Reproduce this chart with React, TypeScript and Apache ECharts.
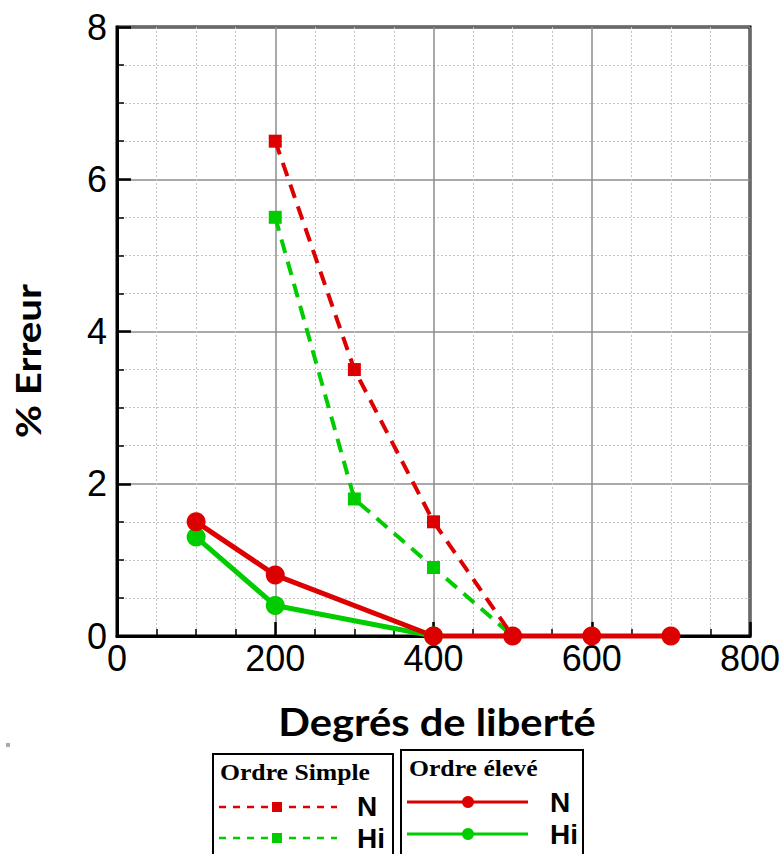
import React, { useEffect, useRef } from "react";
import * as echarts from "echarts";

// ---- data ----
const xSimple = [200, 300, 400, 500];
const simpleN = [6.5, 3.5, 1.5, 0];
const simpleHi = [5.5, 1.8, 0.9, 0];
const xEleveN = [100, 200, 400, 500, 600, 700];
const eleveN = [1.5, 0.8, 0, 0, 0, 0];
const xEleveHi = [100, 200, 400];
const eleveHi = [1.3, 0.4, 0];

const xAxisRange = { min: 0, max: 800, interval: 200 };
const yAxisRange = { min: 0, max: 8, interval: 2 };

const xTitle = "Degrés de liberté";
const yTitle = "% Erreur";
const legendSimpleTitle = "Ordre Simple";
const legendEleveTitle = "Ordre élevé";
const legendLabels = ["N", "Hi"];

const RED = "#dd0000";
const GREEN = "#00cc00";

const pairs = (xs: number[], ys: number[]) => xs.map((x, i) => [x, ys[i]]);

export default function App() {
  const ref = useRef<HTMLDivElement>(null);
  useEffect(() => {
    if (!ref.current) return;
    const chart = echarts.init(ref.current, undefined, { renderer: "svg" });

    const axisCommon = {
      type: "value" as const,
      axisLine: { show: true, onZero: false, lineStyle: { color: "#000", width: 3 } },
      axisTick: { show: true, inside: true, length: 14, lineStyle: { color: "#000", width: 2.5 } },
      minorTick: { show: true, splitNumber: 4, length: 7, lineStyle: { color: "#000", width: 1.5 } },
      splitLine: { show: true, lineStyle: { color: "#8c8c8c", width: 1.5 } },
      minorSplitLine: { show: true, lineStyle: { color: "#c4c4c4", width: 1, type: [2, 2] } },
    };

    const sansBold = "Lato";
    const legendTextStyle = {
      fontFamily: "Liberation Sans",
      fontWeight: "bold",
      fontSize: 28,
      fill: "#000",
      align: "left",
      verticalAlign: "middle",
    };
    const legendTitleStyle = {
      fontFamily: "Liberation Serif",
      fontWeight: "bold",
      fontSize: 24,
      fill: "#000",
      align: "left",
      verticalAlign: "middle",
    };

    chart.setOption({
      animation: false,
      backgroundColor: "#fff",
      grid: {
        left: 117,
        right: 33,
        top: 27,
        bottom: 218,
        show: true,
        borderColor: "#000",
        borderWidth: 3,
        outerBoundsMode: "none",
      },
      xAxis: {
        ...axisCommon,
        ...xAxisRange,
        axisLabel: {
          fontFamily: "Liberation Sans",
          fontSize: 36,
          color: "#000",
          margin: 4,
        },
      },
      yAxis: {
        ...axisCommon,
        ...yAxisRange,
        axisLabel: {
          fontFamily: "Liberation Sans",
          fontSize: 36,
          color: "#000",
          margin: 10,
          padding: [5, 0, 0, 0],
        },
      },
      series: [
        {
          type: "line",
          data: pairs(xSimple, simpleHi),
          clip: false,
          symbol: "rect",
          symbolSize: 13,
          itemStyle: { color: GREEN },
          lineStyle: { color: GREEN, width: 4, type: [14, 9] },
        },
        {
          type: "line",
          data: pairs(xSimple, simpleN),
          clip: false,
          symbol: "rect",
          symbolSize: 13,
          itemStyle: { color: RED },
          lineStyle: { color: RED, width: 4, type: [14, 9] },
        },
        {
          type: "line",
          data: pairs(xEleveHi, eleveHi),
          clip: false,
          symbol: "circle",
          symbolSize: 19,
          itemStyle: { color: GREEN },
          lineStyle: { color: GREEN, width: 5 },
        },
        {
          type: "line",
          data: pairs(xEleveN, eleveN),
          clip: false,
          symbol: "circle",
          symbolSize: 19,
          itemStyle: { color: RED },
          lineStyle: { color: RED, width: 5 },
        },
      ],
      graphic: [
        // axis titles
        {
          type: "text",
          x: 437,
          y: 721,
          scaleX: 1.07,
          style: {
            text: xTitle,
            fontFamily: sansBold,
            fontWeight: "bold",
            fontSize: 39,
            fill: "#000",
            align: "center",
            verticalAlign: "middle",
          },
        },
        {
          type: "text",
          x: 28,
          y: 361,
          rotation: Math.PI / 2,
          scaleX: 1.15,
          style: {
            text: yTitle,
            fontFamily: sansBold,
            fontWeight: "bold",
            fontSize: 35,
            fill: "#000",
            align: "center",
            verticalAlign: "middle",
          },
        },
        // small grey mark
        { type: "rect", shape: { x: 6, y: 743, width: 4, height: 4 }, style: { fill: "#aaa" } },
        // legend box 1: Ordre Simple
        {
          type: "rect",
          shape: { x: 213, y: 754, width: 180, height: 120 },
          style: { fill: "#fff", stroke: "#000", lineWidth: 2 },
        },
        {
          type: "text",
          x: 220,
          y: 772,
          scaleX: 1.07,
          style: { ...legendTitleStyle, text: legendSimpleTitle },
        },
        {
          type: "line",
          shape: { x1: 219, y1: 807, x2: 337, y2: 807 },
          style: { stroke: RED, lineWidth: 2.5, lineDash: [7, 7] },
        },
        { type: "rect", shape: { x: 272, y: 802, width: 10, height: 10 }, style: { fill: RED } },
        {
          type: "line",
          shape: { x1: 219, y1: 838, x2: 337, y2: 838 },
          style: { stroke: GREEN, lineWidth: 2.5, lineDash: [7, 7] },
        },
        { type: "rect", shape: { x: 272, y: 833, width: 10, height: 10 }, style: { fill: GREEN } },
        { type: "text", x: 357, y: 806, style: { ...legendTextStyle, text: legendLabels[0] } },
        { type: "text", x: 357, y: 838, style: { ...legendTextStyle, text: legendLabels[1] } },
        // legend box 2: Ordre élevé
        {
          type: "rect",
          shape: { x: 401, y: 750, width: 182, height: 124 },
          style: { fill: "#fff", stroke: "#000", lineWidth: 2 },
        },
        {
          type: "text",
          x: 409,
          y: 768,
          scaleX: 1.07,
          style: { ...legendTitleStyle, text: legendEleveTitle },
        },
        {
          type: "line",
          shape: { x1: 407, y1: 802, x2: 528, y2: 802 },
          style: { stroke: RED, lineWidth: 3 },
        },
        { type: "circle", shape: { cx: 468, cy: 802, r: 6 }, style: { fill: RED } },
        {
          type: "line",
          shape: { x1: 407, y1: 834, x2: 528, y2: 834 },
          style: { stroke: GREEN, lineWidth: 3 },
        },
        { type: "circle", shape: { cx: 468, cy: 834, r: 6 }, style: { fill: GREEN } },
        { type: "text", x: 550, y: 802, style: { ...legendTextStyle, text: legendLabels[0] } },
        { type: "text", x: 550, y: 834, style: { ...legendTextStyle, text: legendLabels[1] } },
      ],
    });
    return () => chart.dispose();
  }, []);

  return (
    <div
      ref={ref}
      style={{ position: "absolute", left: 0, top: 0, width: 783, height: 854 }}
    />
  );
}
